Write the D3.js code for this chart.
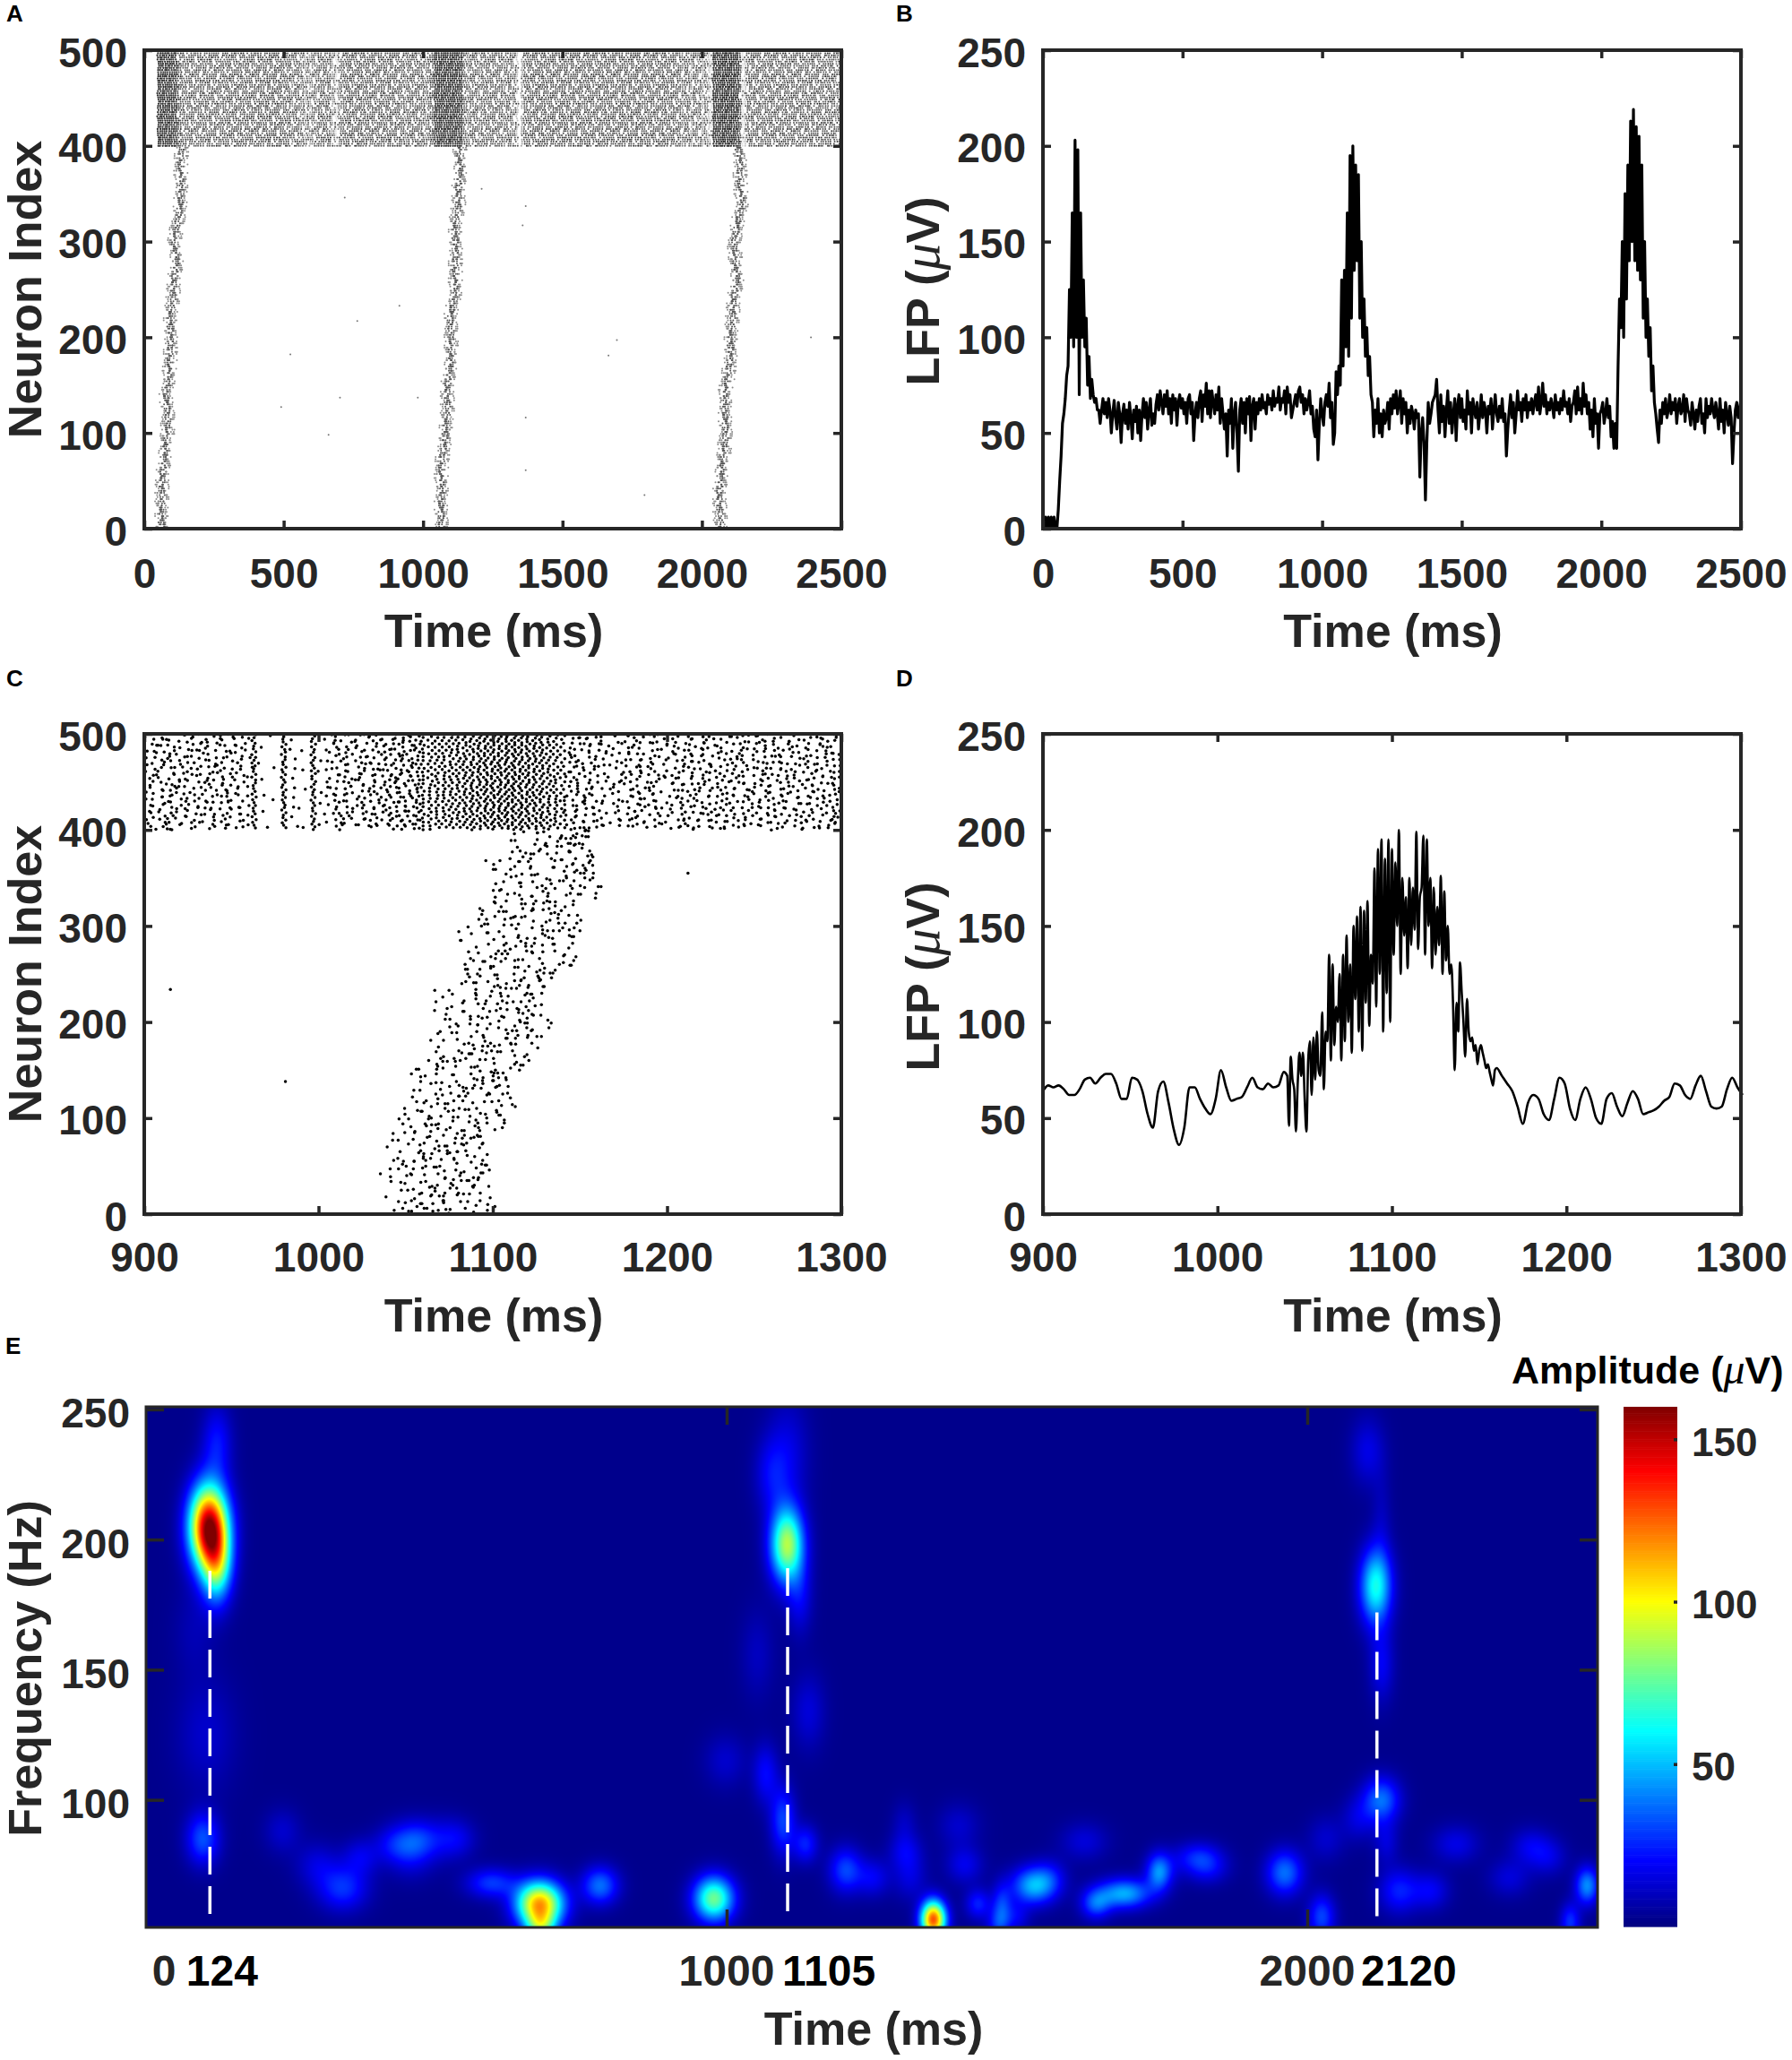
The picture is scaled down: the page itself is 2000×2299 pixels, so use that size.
<!DOCTYPE html>
<html><head><meta charset="utf-8"><title>Neuron raster, LFP and spectrogram</title>
<script src="https://cdn.jsdelivr.net/npm/d3@7/dist/d3.min.js"></script>
<style>html,body{margin:0;padding:0;background:#fff}svg{display:block}text{font-family:"Liberation Sans",Arial,sans-serif;font-weight:700}</style>
</head><body><div id="chart"></div>
<script>
// ---------- Panel A: raster ----------
const bandAStart = 50, bandAStep = 8, bandARowGap = 2.2;
const bandAInk = [9,9,9,9,9,9,8,8,8,7,6,5,5,5,5,6,5,5,5,6,5,6,5,6,5,
5,6,5,5,6,5,6,6,5,6,6,5,6,5,6,6,5,6,6,5,7,6,5,6,7,
6,5,7,6,6,7,5,6,5,6,4,5,6,5,4,5,3,5,3,4,5,4,6,5,6,
5,6,5,3,4,1,4,5,5,6,6,7,6,5,6,7,6,5,6,6,5,6,6,5,6,
6,6,5,6,7,5,6,5,6,5,6,4,6,5,6,5,6,5,5,6,4,5,6,5,8,
9,9,9,9,9,9,9,9,9,9,8,8,5,5,4,5,5,6,5,4,5,5,6,5,5,
5,6,5,5,6,4,5,6,5,4,5,2,0,3,5,6,6,5,6,6,7,6,6,7,6,
5,6,7,6,5,6,7,7,6,5,6,6,5,6,7,5,6,6,7,5,6,5,6,6,5,
6,7,6,5,6,6,5,6,7,6,5,6,6,5,6,7,6,6,5,6,5,6,6,5,6,
5,6,7,6,5,6,6,5,6,5,4,5,6,5,3,6,5,4,6,3,5,4,2,1,9,
9,9,9,10,10,10,10,10,9,9,9,6,1,2,5,6,5,6,5,6,5,5,6,5,6,
6,5,6,5,6,5,6,6,5,6,5,6,5,6,5,5,6,5,6,5,5,6,5,5,6,
5,6,5,6,4,5];
const bandAWiggle = [0,1.6,3,2.2,.4,-1.5,-3,-2.4,-.5,1.4,2.8,1.7,-.3,-2,-2.9,-1.2,.8,2.5];
const ribbonNeurons = [0,20,40,60,80,100,120,140,160,180,200,220,240,260,280,300,320,340,360,380,400];
const ribbon1 = [63,63,63,68,72,84,84,78,88,94,94,94,102,108,115,108,119,131,131,131,135];
const ribbon2 = [1065,1065,1065,1065,1071,1081,1087,1087,1091,1101,1101,1097,1112,1116,1116,1116,1116,1128,1128,1132,1132];
const ribbon3 = [2068,2064,2064,2068,2080,2084,2084,2080,2095,2101,2105,2109,2115,2125,2121,2115,2129,2142,2138,2136,2131];
const ribbonOffsets = [-4,9,-14,3,19,-9,-1,13,-22,6,-6,16,-11,1,24,-17,7,-3,11,-27,4,-8,14,-13,0,21,-5,8,-19,2,27];
const sparseATimes = [719,1210,1368,1357,915,764,524,1695,1665,2391,702,981,491,661,1368,1368,1794];
const sparseANeurons = [346,355,337,317,233,217,182,197,181,200,137,137,127,98,116,61,35];

// ---------- Panel B: LFP every 5 ms ----------
const lfpBStep = 5;
const lfpB = [6,0,6,0,6,0,6,0,6,0,0,10,25,38,55,60,68,80,85,125,
100,165,95,203,100,198,70,165,100,130,95,110,75,90,68,78,70,66,68,62,
62,55,62,68,60,66,58,68,62,50,60,67,58,52,66,60,45,60,65,55,
62,52,66,58,47,62,56,64,50,62,46,60,68,58,66,52,62,68,54,60,
55,65,70,62,72,66,60,70,64,72,60,68,55,70,62,68,54,66,70,63,
68,60,66,55,68,70,60,66,46,60,66,58,68,72,56,70,64,76,60,72,
58,72,66,60,70,62,74,55,68,60,52,60,38,62,55,68,42,60,66,50,
30,62,68,55,66,50,68,60,69,46,64,68,52,66,60,68,62,70,63,66,
60,70,65,68,62,72,64,68,66,74,62,68,66,72,60,74,66,70,58,62,
66,70,64,72,74,66,70,60,68,62,66,72,60,64,52,48,62,36,55,68,
60,54,66,70,64,76,58,66,44,50,82,70,85,75,130,85,135,95,165,90,
195,110,200,135,190,140,185,110,150,100,120,90,105,80,90,70,66,48,62,55,
68,50,60,48,62,55,58,66,52,68,60,70,63,72,60,66,72,55,68,60,
66,50,62,55,64,60,52,62,58,60,27,50,58,45,15,45,66,55,60,66,
68,70,78,62,50,70,56,64,48,62,72,55,66,50,60,68,46,64,70,58,
68,56,62,52,72,60,66,50,68,62,58,66,52,60,70,58,66,62,50,64,
60,68,52,62,70,60,56,64,58,68,56,60,38,52,62,70,58,66,50,60,
72,62,66,56,68,62,70,58,66,62,68,60,66,70,62,74,60,66,76,64,
70,60,66,62,68,64,58,70,62,66,60,68,62,72,64,66,60,68,56,64,
66,72,60,74,62,68,60,76,64,70,60,66,52,62,48,68,55,60,42,60,
62,66,55,60,68,58,64,48,56,42,55,42,85,120,105,150,100,175,120,190,
140,213,150,219,140,210,135,205,130,190,110,150,100,120,90,105,72,85,66,60,
52,45,62,55,66,60,68,58,62,70,60,66,62,68,55,64,68,60,62,70,
56,68,62,60,54,66,60,52,62,56,64,68,55,60,50,68,58,64,60,68,
62,58,66,60,52,68,56,62,50,66,60,54,64,58,34,50,62,66,58,62,68];

// ---------- Panel C: raster zoomed on the second burst ----------
const bandCColumnTimes = [902,905,908,911,914,917,920,923,926,929,932,935,938,941,944,947,950,953,956,959,963,968,973,980,985,990,997,1002,1006,1009,1012,1015,1018,1021,1024,1027,1030,1033,1036,1039,1042,1045,1048,1051,1054,1057,1060,1064,1068,1072,1076,1080,1084,1088,1092,1096,1100,1104,1108,1112,1116,1120,1124,1128,1132,1136,1140,1144,1147,1150,1153,1156,1159,1162,1165,1168,1171,1174,1177,1180,1183,1186,1189,1192,1195,1198,1201,1204,1207,1210,1213,1216,1219,1222,1225,1228,1231,1234,1237,1240,1243,1246,1249,1252,1255,1258,1261,1264,1267,1270,1273,1276,1279,1282,1285,1288,1291,1294,1297,1299];
const bandCColumnCounts = [14,16,13,15,17,14,15,13,16,15,12,14,16,13,15,17,12,14,15,10,34,6,3,38,10,5,36,9,11,15,14,16,13,15,17,14,15,17,16,19,18,20,21,19,22,24,25,28,30,30,32,32,35,37,37,40,40,40,42,42,40,40,37,37,32,30,25,20,17,16,15,14,15,13,8,5,15,10,16,13,15,17,12,15,13,6,15,13,16,14,17,13,15,16,12,15,14,17,13,15,16,14,12,15,17,13,16,14,15,13,17,15,12,16,14,15,13,16,15,17];
const bandCWiggle = [0,.8,1.3,.9,0,-.8,-1.3,-.8,.1,1,1.2,.6,-.4,-1.1,-1,-.2,.6,1.3,.6,-.3,-1.1,-1.2,-.5,.4];
const bandCScatter = [.6,-1.1,.2,1.3,-.4,-1.4,.9,-.2,1.4,-.9,.4,-1.2,1.1,-.6,.1,1.5,-1.5,.7,-.1,1,-.8,.3,1.2,-1.3,.5,-.5,.8];
const sweepCBase = 1000, sweepCRowGap = 4;
const sweepCRowOffset = [0,2,1,3,1,0,3,2,-1,4,-2,2,5];
const sweepCRows = [
[46,57,62,66,71,78,84,97],[44,52,60,64,74,80,86,93],[48,58,62,68,73,77,88,100],[45,54,63,70,75,82,90,95],[42,50,59,65,72,79,85,97],[47,55,61,69,74,83,89,94],[43,52,58,66,71,80,87,92],[46,56,63,67,76,81,90,98],[41,49,60,64,73,78,86,93],[44,53,62,68,75,84,88,96],
[40,51,57,65,70,79,85,91],[45,55,60,67,74,82,89,95],[42,50,63,69,72,80,86,94],[47,54,59,66,76,83,90,93],[41,52,61,64,71,78,87,96],[44,56,62,70,75,81,88,92],[48,53,58,68,73,84,89,95],[43,55,64,67,77,80,86,93],[46,51,60,71,74,82,90,94],[44,57,63,69,78,85,88,92],
[47,54,62,66,75,81,89,95],[52,59,65,72,79,84,91,97],[50,58,67,70,76,86,93,101],[46,60,64,73,80,88,95,103],[49,61,68,74,81,87,97,106],[48,62,66,77,83,90,98,107],[52,60,70,75,85,92,100,108],[55,63,69,78,82,94,99,106],[50,65,72,76,87,91,102,109],[56,62,71,80,84,95,101,110],
[53,66,73,79,88,93,103,108],[58,64,75,81,86,97,100,107],[54,67,72,83,90,96,104,110],[60,65,74,82,89,94,102,106],[55,68,77,84,91,98,101,108],[58,63,76,85,88,96,103,109],[56,70,78,83,92,99,105,107],[62,66,75,86,90,97,104,112],[60,69,79,87,93,100,106,113],[64,71,80,84,95,102,108,115],
[62,73,82,89,94,104,110,118],[68,75,83,91,97,103,112,120],[66,78,85,90,99,106,114,122],[70,76,87,93,100,108,115,124],[68,80,86,95,102,107,117,123],[72,79,88,94,104,110,116,125],[70,82,90,96,103,112,119,127],[74,81,89,98,105,111,120,126],[72,84,92,97,107,113,118,128],[76,83,91,100,106,115,121,129],
[73,86,93,101,108,114,122,128],[70,85,95,103,109,116,120,127],[75,82,94,99,111,117,124,126],[69,84,90,102,107,113,119,125],[72,80,92,100,106,115,121,123],[68,83,91,98,104,112,118,124],[71,85,93,101,110,114,120,122],[74,81,95,103,108,116,119,126],[70,87,94,100,111,113,122,128],[78,86,97,104,109,118,123,130],
[80,88,96,102,112,117,125,131],[83,90,99,106,113,120,127,134],[85,93,101,108,115,122,129,136],[87,95,100,110,116,124,132,140],[90,97,104,109,118,125,133,141],[88,96,105,112,119,127,134,142],[85,94,103,110,117,128,136,144],[86,98,106,113,121,126,137,145],[84,95,102,111,120,129,135,143],[89,99,107,115,122,130,138,146],
[83,93,104,112,118,128,139,144],[85,97,105,114,123,131,136,147],[88,96,108,113,120,127,140,145],[82,100,106,116,124,129,137,143],[90,98,109,117,125,132,138,150],[92,101,107,115,122,130,140,144],[89,103,110,118,126,133,139,146],[94,100,112,116,123,131,141,145],[91,104,111,119,127,134,138,143],[96,102,113,120,125,132,137,142],
[95,106,112,121,128,135,140,146],[99,105,115,122,129,136,143,150],[102,108,116,124,130,138,146,155],[100,110,118,125,133,140,148,158],[103,109,117,127,134,142,150,160],[105,112,120,126,136,144,152,159],[102,113,119,128,135,141,149,157],[106,111,121,130,137,145,151,161],[104,114,122,129,139,146,153,158],[101,112,120,131,138,143,150,155],
[103,115,123,130,140,147,152,156],[105,113,124,132,137,144,149,154],[108,116,122,133,141,146,151,153],[106,117,125,134,139,145,150,155],[110,118,126,131,142,148,152,154],[112,119,124,135,140,147,151,153],[109,120,127,133,143,146,150,152],[114,121,128,136,141,149,152,153],[116,122,130,137,142,148,150,154],[118,125,131,138,144,150,151,153]];
const sparseCTimes = [915,981,1212,1096,1150];
const sparseCNeurons = [234,138,355,368,295];

// ---------- Panel D: LFP zoomed on the second burst ----------
const lfpDLeftStart = 900, lfpDLeftStep = 3;
const lfpDLeft = [64,67,66,67,65,62,62,65,70,71,68,71,73,73,68,60,60,71,70,64,52,45,64,69,58,44,36,45,66,66,60,55,52,60,75,66,59,60,61,66,71,66,65,68,66,67,74];
const lfpDBurstStart = 1040, lfpDBurstStep = 1;
const lfpDBurst = [72,46,82,70,65,43,68,84,72,84,60,43,80,90,62,92,70,95,75,72,
105,65,95,90,135,80,130,88,108,100,125,80,135,90,145,100,130,84,150,112,
155,95,160,85,158,110,163,98,135,120,180,108,190,125,195,95,185,115,195,100,
190,135,183,150,200,125,175,145,165,128,175,140,170,148,199,138,165,170,197,135,
195,150,175,128,170,135,160,140,176,125,168,132,150,125,130,110,75,110,95,131,
115,100,82,112,95,90,92,85,88,78,85,88,84,80,76,78,74,70,67,75,76];
const lfpDRightStart = 1163, lfpDRightStep = 3;
const lfpDRight = [72,68,64,56,47,58,62,60,52,49,60,71,68,55,49,60,66,60,50,47,60,63,56,51,58,64,60,52,53,54,56,59,61,68,67,62,60,67,72,64,56,55,56,65,71,66,62];

// ---------- Panel E: spectrogram peaks ----------
const peakTimes = [108,122,122,98,103,83,678,680,782,595,978,339,457,295,516,1104,1106,1077,1126,1053,1141,1067,998,1097,1136,1205,1356,1316,1306,1528,1474,1500,1685,1636,1744,1813,1616,1410,1961,2025,2118,2104,2128,2128,2128,2158,2136,2256,2384,2482,2453,235,370,427,472,540,1252,1308,1400,1433,1467,1557,1750,1828,2032,2088,2213,2348,2416];
const peakFreqs  = [205,190,237,85,125,165,60,51,67,68,62,66,81,75,85,198,233,225,178,156,134,110,115,92,83,73,54,70,91,67,59,55,64,60,72,78,84,75,72,55,182,234,207,152,100,65,84,83,82,67,53,88,78,83,85,85,70,80,90,60,52,70,73,73,85,93,65,70,78];
const peakAmps   = [150,65,20,30,10,6,112,50,35,26,75,25,18,12,10,85,13,15,15,8,12,18,10,28,22,28,125,12,8,45,25,14,45,30,28,22,12,15,35,28,60,14,7,16,35,22,12,14,14,40,25,10,14,14,14,10,16,14,10,22,18,14,14,14,10,12,16,12,12];
const peakWidthT = [23,18,18,20,35,25,28,18,22,30,24,30,28,26,24,20,25,20,15,20,20,15,25,15,15,20,15,20,15,26,12,15,32,18,14,28,28,22,22,16,19,20,12,15,22,24,15,28,24,14,12,22,22,24,24,22,20,20,25,15,14,20,20,25,22,20,22,25,22];
const peakWidthF = [11,10,10,7,15,12,6,4,5,4,6,6,7,6,6,10,15,10,10,12,10,8,7,9,5,6,5,6,6,5,6,4,4,4,5,4,5,5,6,6,10,9,14,10,6,6,6,5,5,5,5,6,5,5,5,5,5,5,6,4,4,5,5,4,6,6,5,5,5];
const spectrogramFloor = 2;
const dashTimes = [110,1105,2120];
const dashTopFreqs = [188,189,172];
const dashBottomFreq = 54.5;
const eTickTimes = [1000,2000];
const eLabelTexts = ["0","124","1000","1105","2000","2120"];
const eLabelTimes = [31,131,1000,1176,2000,2175];
const eLabelStrong = [false,true,false,true,false,true];
const eFreqTicks = [100,150,200,250];
const amplitudeTicks = [50,100,150];

// ---------- Shared ----------
const tickFont = 46, labelFont = 52, INK = "#262626";
const svg = d3.select("#chart").append("svg").attr("width",2000).attr("height",2299).attr("viewBox","0 0 2000 2299");
svg.append("rect").attr("width",2000).attr("height",2299).attr("fill","#fff");
const defs = svg.append("defs");

function makePanel(o){
  const x = d3.scaleLinear().domain(o.xd).range([o.l,o.r]);
  const y = d3.scaleLinear().domain(o.yd).range([o.b,o.t]);
  return {x,y,...o,g:svg.append("g")};
}
function finishPanel(p){
  const g = svg.append("g");
  const styl = s => { s.select(".domain").remove();
    s.selectAll(".tick line").attr("stroke",INK).attr("stroke-width",3.5);
    s.selectAll("text").attr("fill",INK).attr("font-size",p.tf||tickFont); };
  const b = g.append("g").attr("transform",`translate(0,${p.b})`).call(d3.axisBottom(p.x).tickValues(p.xt).tickFormat(d3.format("d")).tickSizeInner(-9).tickSizeOuter(0)).call(styl);
  b.selectAll("text").attr("y",p.xLabelY-p.b).attr("dy",0);
  g.append("g").attr("transform",`translate(0,${p.t})`).call(d3.axisTop(p.x).tickValues(p.xt).tickFormat("").tickSizeInner(-9).tickSizeOuter(0)).call(styl);
  const l = g.append("g").attr("transform",`translate(${p.l},0)`).call(d3.axisLeft(p.y).tickValues(p.yt).tickFormat(d3.format("d")).tickSizeInner(-9).tickSizeOuter(0)).call(styl);
  l.selectAll("text").attr("x",-19).attr("dy",18);
  g.append("g").attr("transform",`translate(${p.r},0)`).call(d3.axisRight(p.y).tickValues(p.yt).tickFormat("").tickSizeInner(-9).tickSizeOuter(0)).call(styl);
  g.append("rect").attr("x",p.l).attr("y",p.t).attr("width",p.r-p.l).attr("height",p.b-p.t).attr("fill","none").attr("stroke",INK).attr("stroke-width",4);
  g.append("text").attr("x",(p.l+p.r)/2+1).attr("y",p.xTitleY).attr("text-anchor","middle").attr("font-size",labelFont).attr("fill",INK).text("Time (ms)");
}
function yTitle(xb,yc,parts){
  const t = svg.append("text").attr("transform",`translate(${xb},${yc}) rotate(-90)`).attr("text-anchor","middle").attr("font-size",labelFont).attr("fill",INK);
  parts.forEach(q=>{const s=t.append("tspan").text(q.s); if(q.mu) s.attr("font-family","'Liberation Serif',serif").attr("font-style","italic").attr("font-weight",400).attr("font-size",60);});
}
const LFP_TITLE = [{s:"LFP ("},{s:"\u03BC",mu:true},{s:"V)"}];
function letter(s,x,y){ svg.append("text").attr("x",x).attr("y",y).attr("font-size",26).attr("fill","#000").text(s); }
function clip(p,id){ defs.append("clipPath").attr("id",id).append("rect").attr("x",p.l).attr("y",p.t).attr("width",p.r-p.l).attr("height",p.b-p.t); return `url(#${id})`; }

// ---------- A ----------
const pA = makePanel({l:161,r:939,t:56,b:590,xd:[0,2500],yd:[0,500],xt:[0,500,1000,1500,2000,2500],yt:[0,100,200,300,400,500],xLabelY:656,xTitleY:722});
const inkScale = d3.scaleLinear().domain([0,5,10]).range(["#ffffff","#606060","#262626"]);
const spikesA = [];
bandAInk.forEach((ink,c)=>{
  if(ink===0) return;
  const t = bandAStart+c*bandAStep;
  const count = Math.round(100/bandARowGap);
  for(let k=0;k<count;k++){
    const sc = bandCScatter[(c*5+k*2)%bandCScatter.length];
    const skip = ink<8 && bandCScatter[(c*11+k*7)%bandCScatter.length]>1.0;
    if(skip) continue;
    spikesA.push({t:t+bandAWiggle[k%bandAWiggle.length]*(ink>=8?.7:.8)+sc*1.2, n:400+k*bandARowGap, c:inkScale(sc>1.05?Math.min(10,ink+4):ink), r:ink>=8?1.15:1});
  }
});
const ribbonRows = d3.range(0,400,2.2);
[ribbon1,ribbon2,ribbon3].forEach((r,b)=>{
  const centre = d3.scaleLinear().domain(ribbonNeurons).range(r);
  ribbonRows.forEach((n,i)=>{
    for(let k=0;k<6;k++){
      const o = ribbonOffsets[(i*11+k*5+(i%3)*k*2+b*3)%ribbonOffsets.length];
      spikesA.push({t:centre(n)+o*.9,n,c:Math.abs(o)<12?"#555":"#8a8a8a",r:1});
    }
  });
});
sparseATimes.forEach((t,i)=>spikesA.push({t,n:sparseANeurons[i],c:"#777",r:1}));
pA.g.selectAll("circle").data(spikesA).join("circle").attr("cx",d=>pA.x(d.t)).attr("cy",d=>pA.y(d.n)).attr("r",d=>d.r).attr("fill",d=>d.c);
finishPanel(pA); yTitle(46,323,[{s:"Neuron Index"}]); letter("A",7,24);

// ---------- B ----------
const pB = makePanel({l:1164,r:1943,t:56,b:590,xd:[0,2500],yd:[0,250],xt:[0,500,1000,1500,2000,2500],yt:[0,50,100,150,200,250],xLabelY:656,xTitleY:722});
pB.g.append("path").datum(lfpB).attr("clip-path",clip(pB,"cB")).attr("fill","none").attr("stroke","#000").attr("stroke-width",3.2).attr("stroke-linejoin","round")
  .attr("d",d3.line().x((d,i)=>pB.x(i*lfpBStep)).y(d=>pB.y(d)));
finishPanel(pB); yTitle(1048,325,LFP_TITLE); letter("B",1000,24);

// ---------- C ----------
const pC = makePanel({l:161,r:939,t:819,b:1355,xd:[900,1300],yd:[0,500],xt:[900,1000,1100,1200,1300],yt:[0,100,200,300,400,500],xLabelY:1419,xTitleY:1486});
const spikesC = [];
bandCColumnTimes.forEach((t,c)=>{
  const n = bandCColumnCounts[c], stride = 100/n;
  for(let k=0;k<n;k++){
    const nrn = 400 + ((k+.5)*stride + (c*3.7)%stride)%100;
    const w = bandCWiggle[Math.floor(nrn-400)%bandCWiggle.length];
    const s = n>=24 ? 0 : bandCScatter[(c+k*5)%bandCScatter.length]*1.4;
    spikesC.push([t+w+s,nrn]);
  }
});
sweepCRows.forEach((row,i)=>row.forEach((d,k)=>spikesC.push([sweepCBase+d+bandCScatter[(i*7+k*11)%bandCScatter.length]*3,i*sweepCRowGap+sweepCRowOffset[(k*3+i*5)%sweepCRowOffset.length]])));
sparseCTimes.forEach((t,i)=>spikesC.push([t,sparseCNeurons[i]]));
pC.g.attr("clip-path",clip(pC,"cC")).selectAll("circle").data(spikesC).join("circle").attr("cx",d=>pC.x(d[0])).attr("cy",d=>pC.y(d[1])).attr("r",1.75).attr("fill","#000");
finishPanel(pC); yTitle(46,1087,[{s:"Neuron Index"}]); letter("C",7,766);

// ---------- D ----------
const pD = makePanel({l:1164,r:1943,t:819,b:1355,xd:[900,1300],yd:[0,250],xt:[900,1000,1100,1200,1300],yt:[0,50,100,150,200,250],xLabelY:1419,xTitleY:1486});
const lfpD = [...lfpDLeft.map((v,i)=>[lfpDLeftStart+i*lfpDLeftStep,v]),...lfpDBurst.map((v,i)=>[lfpDBurstStart+i*lfpDBurstStep,v]),...lfpDRight.map((v,i)=>[lfpDRightStart+i*lfpDRightStep,v])];
pD.g.append("path").datum(lfpD).attr("fill","none").attr("stroke","#000").attr("stroke-width",2.6).attr("stroke-linejoin","round")
  .attr("d",d3.line().curve(d3.curveMonotoneX).x(d=>pD.x(d[0])).y(d=>pD.y(d[1])));
finishPanel(pD); yTitle(1048,1090,LFP_TITLE); letter("D",1000,766);

// ---------- E ----------
const E = {l:163,r:1783,t:1570,b:2151};
const eX = d3.scaleLinear().domain([0,2500]).range([E.l,E.r]);
const eY = d3.scaleLinear().domain([51,251]).range([E.b,E.t]);
const jet = d3.scaleLinear().domain([0,20,60,100,140,160]).range(["#00007f","#0000ff","#00ffff","#ffff00","#ff0000","#7f0000"]).clamp(true);
const W = E.r-E.l, H = E.b-E.t;
const cv = document.createElement("canvas"); cv.width=W; cv.height=H;
const c2 = cv.getContext("2d"); const im = c2.createImageData(W,H);
for(let py=0;py<H;py++){
  const f = eY.invert(E.t+py+.5);
  for(let px=0;px<W;px++){
    const t = eX.invert(E.l+px+.5);
    let v = spectrogramFloor;
    for(let i=0;i<peakTimes.length;i++){
      const dt=(t-peakTimes[i])/peakWidthT[i];
      if(Math.abs(dt)>4) continue;
      const df=(f-peakFreqs[i])/peakWidthF[i];
      v += peakAmps[i]*Math.exp(-.5*(dt*dt+df*df));
    }
    const c = d3.rgb(jet(v)), o=(py*W+px)*4;
    im.data[o]=c.r; im.data[o+1]=c.g; im.data[o+2]=c.b; im.data[o+3]=255;
  }
}
c2.putImageData(im,0,0);
svg.append("image").attr("x",E.l).attr("y",E.t).attr("width",W).attr("height",H).attr("href",cv.toDataURL());
svg.selectAll("line.dash").data(dashTimes).join("line").attr("class","dash").attr("x1",d=>eX(d)).attr("x2",d=>eX(d)).attr("y1",(d,i)=>eY(dashTopFreqs[i])).attr("y2",eY(dashBottomFreq)).attr("stroke","#fff").attr("stroke-width",3.5).attr("stroke-dasharray","31 13");
const eg = svg.append("g");
const sty2 = s=>{s.select(".domain").remove(); s.selectAll(".tick line").attr("stroke",INK).attr("stroke-width",3.5); s.selectAll("text").attr("fill",INK).attr("font-size",46);};
eg.append("g").attr("transform",`translate(0,${E.b})`).call(d3.axisBottom(eX).tickValues(eTickTimes).tickFormat("").tickSizeInner(-20).tickSizeOuter(0)).call(sty2);
eg.append("g").attr("transform",`translate(0,${E.t})`).call(d3.axisTop(eX).tickValues(eTickTimes).tickFormat("").tickSizeInner(-20).tickSizeOuter(0)).call(sty2);
const eL = eg.append("g").attr("transform",`translate(${E.l},0)`).call(d3.axisLeft(eY).tickValues(eFreqTicks).tickFormat(d3.format("d")).tickSizeInner(-20).tickSizeOuter(0)).call(sty2);
eL.selectAll("text").attr("x",-18).attr("dy",20);
eg.append("g").attr("transform",`translate(${E.r},0)`).call(d3.axisRight(eY).tickValues(eFreqTicks).tickFormat("").tickSizeInner(-20).tickSizeOuter(0)).call(sty2);
eg.append("rect").attr("x",E.l).attr("y",E.t).attr("width",W).attr("height",H).attr("fill","none").attr("stroke",INK).attr("stroke-width",3);
eg.selectAll("text.tl").data(eLabelTexts).join("text").attr("class","tl").attr("x",(d,i)=>eX(eLabelTimes[i])).attr("y",2216).attr("text-anchor","middle").attr("font-size",48).attr("fill",(d,i)=>eLabelStrong[i]?"#000":INK).text(d=>d);
svg.append("text").attr("x",975).attr("y",2282).attr("text-anchor","middle").attr("font-size",labelFont).attr("fill",INK).text("Time (ms)");
yTitle(46,1862,[{s:"Frequency (Hz)"}]); letter("E",6,1511);

// colour bar
const cb = {l:1812,r:1872};
const cbY = d3.scaleLinear().domain([0,160]).range([E.b-1,E.t]);
svg.selectAll("rect.cb").data(d3.range(0,160,.5)).join("rect").attr("class","cb").attr("x",cb.l).attr("width",cb.r-cb.l).attr("y",d=>cbY(d+.5)).attr("height",d=>cbY(d)-cbY(d+.5)+.6).attr("fill",d=>jet(d));
const cbA = svg.append("g").attr("transform",`translate(${cb.r},0)`).call(d3.axisRight(cbY).tickValues(amplitudeTicks).tickFormat(d3.format("d")).tickSizeInner(-4).tickSizeOuter(0)).call(sty2);
cbA.selectAll("text").attr("x",16).attr("dy",18).attr("text-anchor","start").attr("font-size",44);
const at = svg.append("text").attr("x",1687).attr("y",1544).attr("font-size",43).attr("fill","#000");
at.append("tspan").text("Amplitude (");
at.append("tspan").text("\u03BC").attr("font-family","'Liberation Serif',serif").attr("font-style","italic").attr("font-weight",400).attr("font-size",48);
at.append("tspan").text("V)");
</script></body></html>
